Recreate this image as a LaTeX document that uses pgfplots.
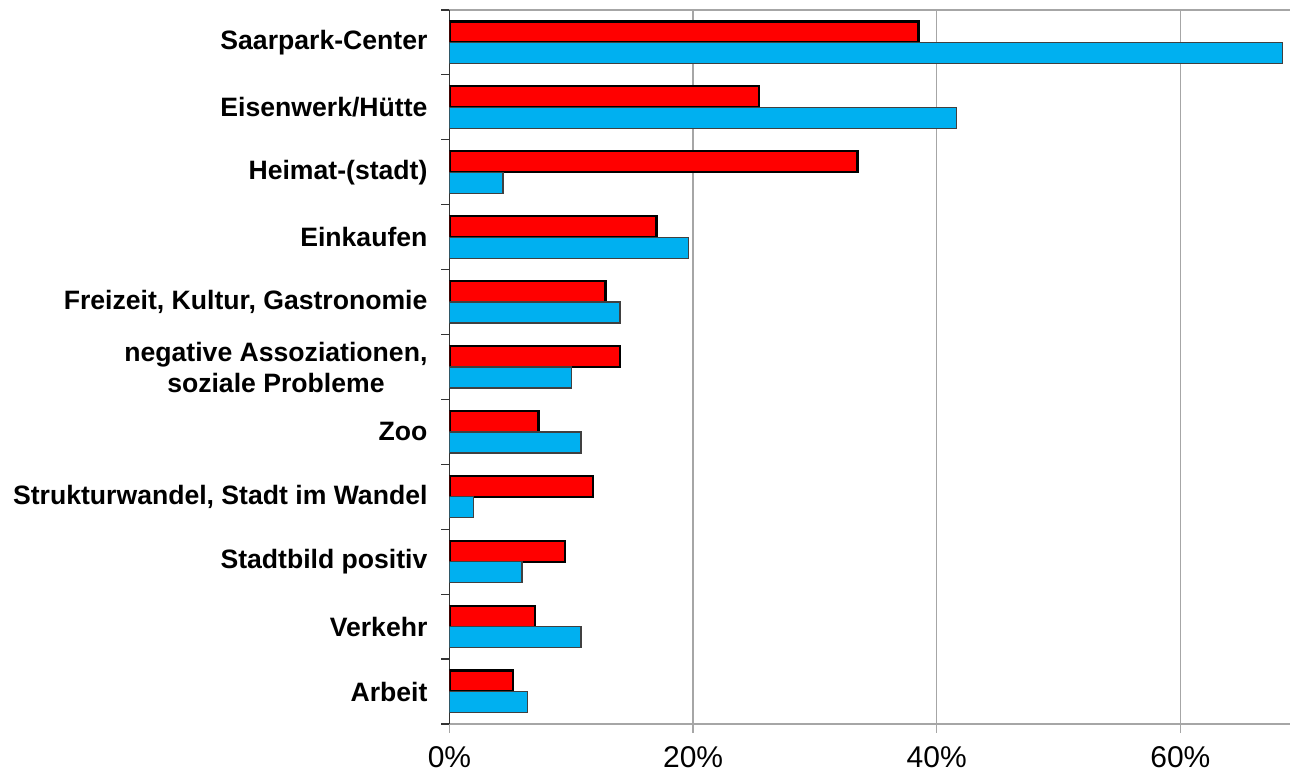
\documentclass[border=0pt]{standalone}
\usepackage{pgfplots}
\pgfplotsset{compat=1.18}
\usepackage{fontspec}
\setmainfont{Liberation Sans}
\definecolor{barred}{HTML}{FF0000}
\definecolor{barblue}{HTML}{00B0F0}
\definecolor{gridgray}{HTML}{A6A6A6}

% categories from bottom (0) to top (10)
\pgfplotstableread{
y red  blue
10 38.5 68.4
9  25.4 41.6
8  33.5 4.4
7  17.0 19.6
6  12.8 14.0
5  14.0 10.0
4  7.3  10.8
3  11.8 1.95
2  9.5  5.95
1  7.0  10.8
0  5.2  6.4
}\assoc

\begin{document}
\begin{tikzpicture}
\useasboundingbox (-224.75pt,-25.5pt) rectangle (420.25pt,362pt);
\begin{axis}[
    at={(0,0)}, anchor=south west,
    scale only axis,
    width=420.25pt, height=357pt,
    xbar, bar width=10.5pt,
    xmin=0, xmax=69,
    ymin=-0.5, ymax=10.5,
    axis x line=box, axis y line=left,
    x axis line style={gridgray, line width=0.75pt},
    y axis line style={-, black!80, line width=0.75pt},
    xtick={0,20,40,60},
    xticklabel={\pgfmathprintnumber{\tick}\%},
    /pgf/number format/assume math mode=true,
    xticklabel style={font=\fontsize{15}{18}\selectfont, yshift=-3pt},
    xmajorgrids, major grid style={gridgray, line width=0.7pt},
    x tick style={gridgray, line width=0.7pt},
    major tick length=4.5pt, minor tick length=4pt,
    tick align=outside, tick pos=left,
    ytick={0,...,10},
    yticklabels={Arbeit, Verkehr, Stadtbild positiv, {Strukturwandel, Stadt im Wandel}, Zoo,
      {negative Assoziationen,\\soziale Probleme}, {Freizeit, Kultur, Gastronomie},
      Einkaufen, Heimat-(stadt), Eisenwerk/Hütte, Saarpark-Center},
    yticklabel style={font=\bfseries\fontsize{13.3}{15.5}\selectfont, align=center, xshift=-3pt},
    major y tick style={draw=none},
    minor y tick style={black!80, line width=0.6pt},
    minor ytick={-0.5,0.5,...,10.5},
]
\addplot[fill=barred, draw=black, line width=1.1pt, bar shift=5.25pt] table[x=red, y=y] {\assoc};
\addplot[fill=barblue, draw=black!75, line width=0.6pt, bar shift=-5.25pt] table[x=blue, y=y] {\assoc};
\end{axis}
\end{tikzpicture}
\end{document}
